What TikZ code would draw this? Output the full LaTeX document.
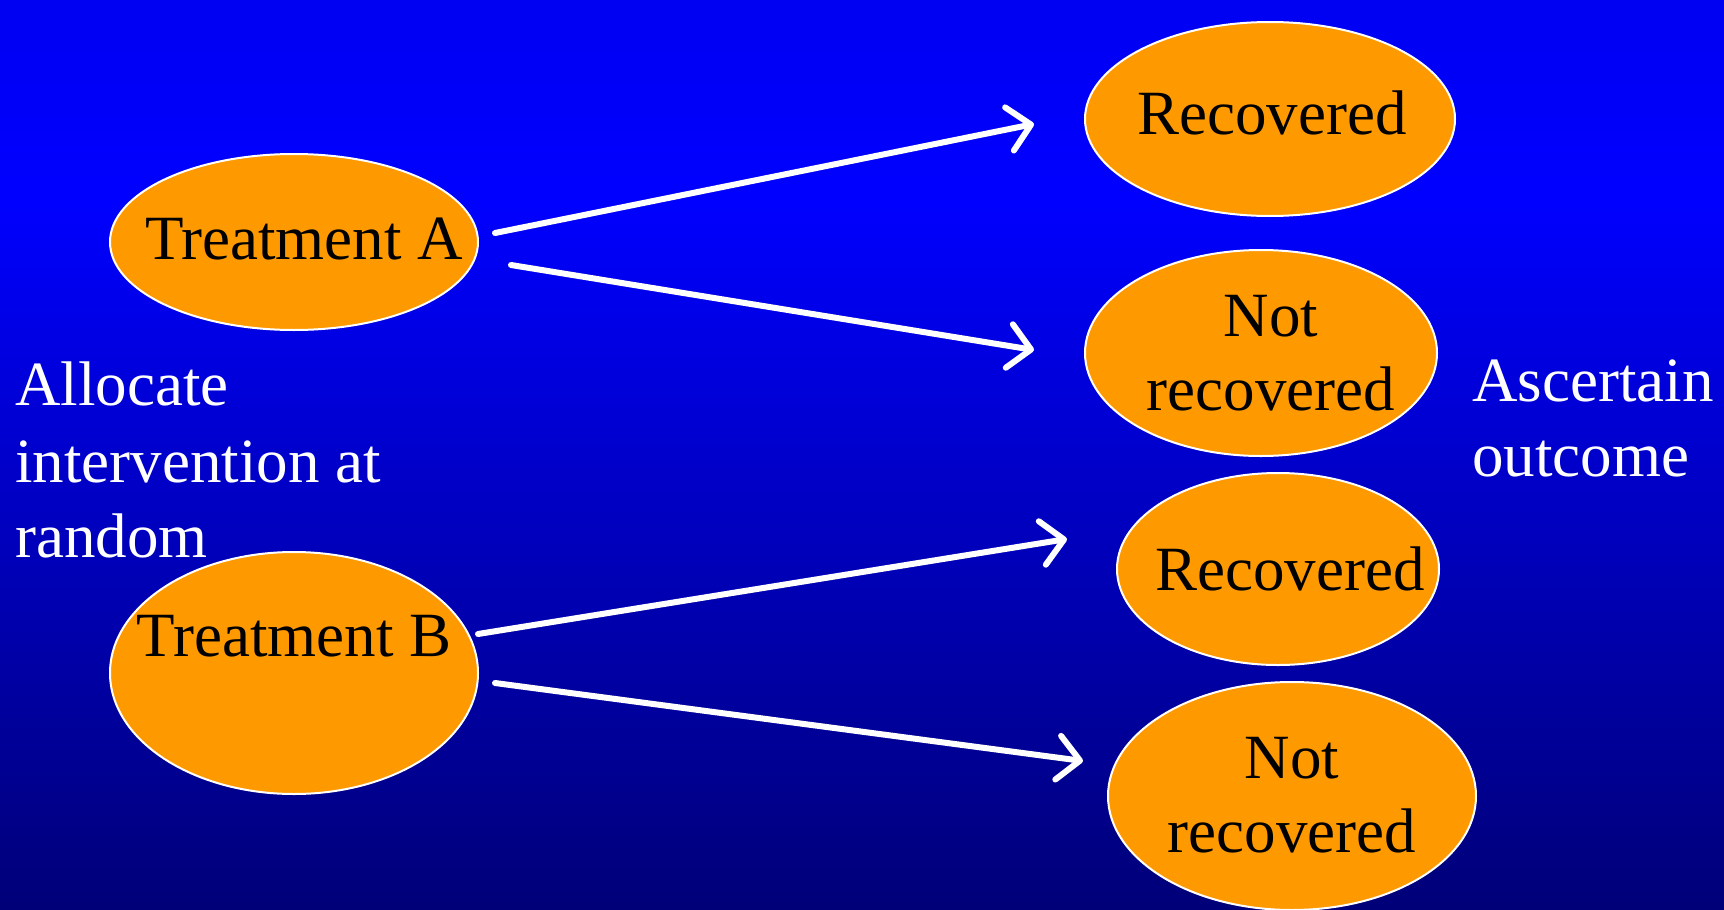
\documentclass[tikz,border=0pt]{standalone}
\usepackage{fontspec}
\setmainfont{Liberation Serif}
\usetikzlibrary{arrows.meta,shapes.geometric}
\definecolor{boxfill}{RGB}{255,153,0}
\pgfdeclareverticalshading{slidebg}{100bp}{%
  rgb(0bp)=(0,0,0.47); rgb(25bp)=(0,0,0.47); rgb(50bp)=(0,0,0.80);
  rgb(64bp)=(0,0,1); rgb(75bp)=(0,0,0.95); rgb(100bp)=(0,0,0.95)}
% a line of zero width, so the ellipse keeps its own size; optional nudge to the right
\newcommand\ctrline[2][0pt]{\makebox[0pt]{\hspace*{#1}#2}}
\tikzset{
  oval/.style={ellipse, draw=white, line width=1pt, fill=boxfill, inner sep=0pt,
    align=center, font=\fontsize{31.5}{37}\selectfont, text=black},
  side/.style={anchor=base west, align=left, text=white,
    font=\fontsize{31.5}{38.5}\selectfont},
  flow/.style={draw=white, line width=3pt, line cap=round,
    -{Straight Barb[length=11pt, width=22pt, line width=3pt, round]}}
}
\begin{document}
\begin{tikzpicture}[x=0.5pt, y=-0.5pt]
  \useasboundingbox (0,0) rectangle (1724,910);
  \shade[shading=slidebg] (0,0) rectangle (1724,910);

  % starting groups (sizes in pt: one pixel is half a point)
  \node[oval, minimum width=184pt, minimum height=88pt] (ta) at (294,242)
    {\raisebox{3pt}{\ctrline[10pt]{Treatment A}}};
  \node[oval, minimum width=184pt, minimum height=121pt] (tb) at (294,673)
    {\ctrline{Treatment B}\\\mbox{}};

  % outcomes
  \node[oval, minimum width=185pt, minimum height=97pt] (ra) at (1270,119)
    {\raisebox{6pt}{\ctrline[2pt]{Recovered}}};
  \node[oval, minimum width=176pt, minimum height=103pt] (na) at (1261,353)
    {\ctrline[10pt]{Not}\\\ctrline[10pt]{recovered}};
  \node[oval, minimum width=161pt, minimum height=96pt] (rb) at (1278,569)
    {\ctrline[12pt]{Recovered}};
  \node[oval, minimum width=184pt, minimum height=114pt] (nb) at (1292,796)
    {\raisebox{1.5pt}{\ctrline{Not}}\\\raisebox{1.5pt}{\ctrline{recovered}}};

  % side captions
  \node[side] (alloc) at (8,405) {Allocate};
  \node[side] (interv) at (8,482) {intervention at};
  \node[side] (rand) at (8,557) {random};
  \node[side] (asc) at (1465,401) {Ascertain};
  \node[side] (outc) at (1465,476) {outcome};

  % arrow end points
  \coordinate (a1s) at (495,233);  \coordinate (a1e) at (1034,124);
  \coordinate (a2s) at (511,265);  \coordinate (a2e) at (1034,350);
  \coordinate (b1s) at (478,634);  \coordinate (b1e) at (1067,539);
  \coordinate (b2s) at (495,683);  \coordinate (b2e) at (1083,761);

  \draw[flow] (a1s) -- (a1e);
  \draw[flow] (a2s) -- (a2e);
  \draw[flow] (b1s) -- (b1e);
  \draw[flow] (b2s) -- (b2e);
\end{tikzpicture}
\end{document}
